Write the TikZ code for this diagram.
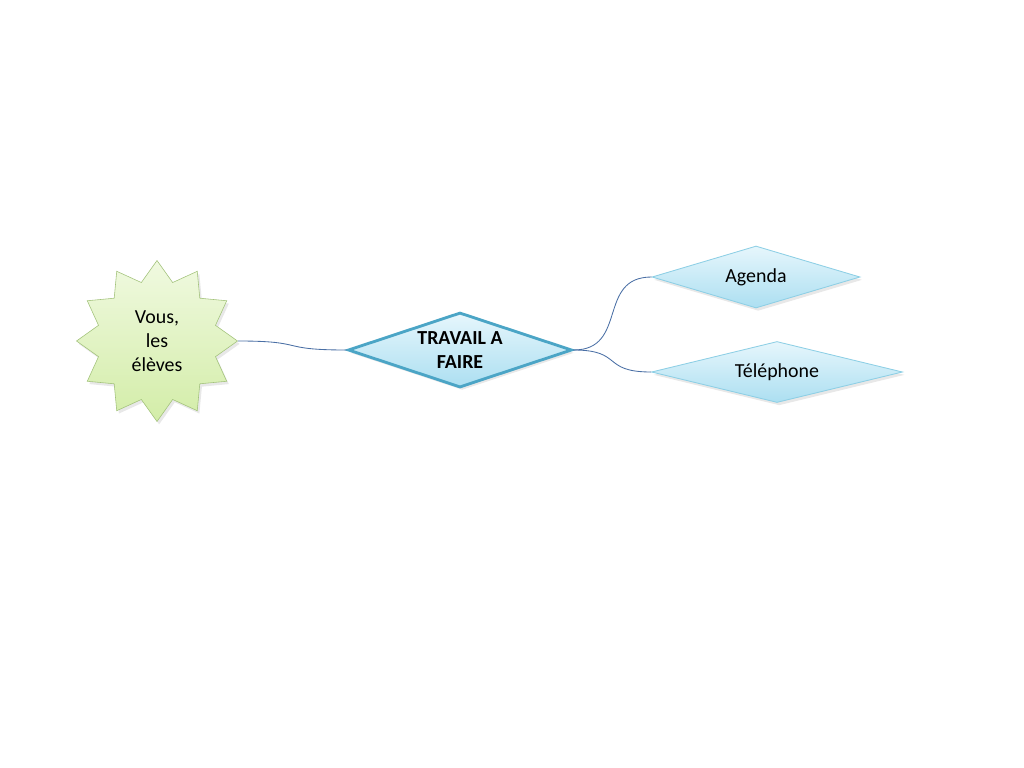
\documentclass[tikz,border=0pt]{standalone}
\usepackage{fontspec}
\setmainfont{Carlito}
\usetikzlibrary{shapes.geometric,shadows}

\newcommand{\pxu}{0.7031pt}
\definecolor{starline}{HTML}{A2C27A}
\definecolor{startop}{HTML}{F0F9E0}
\definecolor{starbot}{HTML}{D3EDA8}
\definecolor{mainline}{HTML}{4BA5C6}
\definecolor{leafline}{HTML}{8DCFE5}
\definecolor{cyantop}{HTML}{E6F6FC}
\definecolor{cyanbot}{HTML}{ACDFF1}
\definecolor{linkcol}{HTML}{4A6FA5}

\begin{document}
\begin{tikzpicture}[
  x=\pxu, y=-\pxu,
  font=\fontsize{14}{16.8}\selectfont,
  shade/.style={drop shadow={opacity=0.18, shadow xshift=1.5pt, shadow yshift=-2pt}},
  burst/.style={star, star points=12, star point ratio=1.33, draw=starline,
                top color=startop, bottom color=starbot, align=center,
                inner sep=0pt, minimum size=161*\pxu, shade},
  topic/.style={diamond, aspect=3, draw=mainline, line width=2pt, top color=cyantop,
                bottom color=cyanbot, align=center, inner sep=0pt,
                font=\fontsize{14}{16.8}\selectfont\bfseries, shade},
  leaf/.style={diamond, draw=leafline, line width=0.6pt, top color=cyantop,
               bottom color=cyanbot, align=center, inner sep=0pt, shade},
  link/.style={draw=linkcol, line width=0.6pt}
]
\useasboundingbox (0,0) rectangle (1024,768);

% --- Noeuds ---
\node[burst] (eleves) at (157,341) {Vous,\\les\\élèves};
\node[topic, minimum width=224*\pxu, minimum height=75*\pxu] (travail) at (460,350) {TRAVAIL A\\FAIRE};
\node[leaf, aspect=3.3, minimum width=208*\pxu, minimum height=62*\pxu] (agenda) at (756,277) {Agenda};
\node[leaf, aspect=4.1, minimum width=251*\pxu, minimum height=61*\pxu] (tel) at (777,372) {Téléphone};

% --- Liens ---
\draw[link] (eleves.east) .. controls +(70,0) and +(-70,0) .. (travail.west);
\draw[link] (travail.east) .. controls +(55,0) and +(-55,0) .. (agenda.west);
\draw[link] (travail.east) .. controls +(50,0) and +(-50,0) .. (tel.west);

\end{tikzpicture}
\end{document}
